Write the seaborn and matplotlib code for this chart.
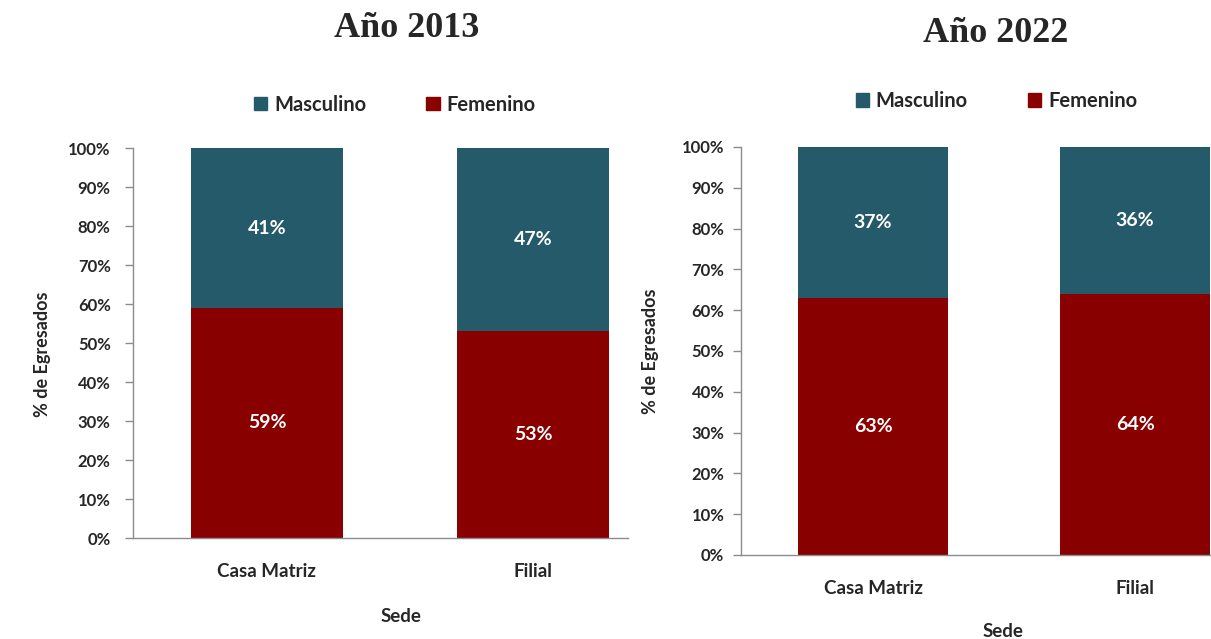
import numpy as np
import pandas as pd
import seaborn as sns
import matplotlib.pyplot as plt
from matplotlib.patches import Patch

# --- data ---
sedes = ['Casa Matriz', 'Filial']
years = ['Año 2013', 'Año 2022']
femenino_2013 = [59, 53]
masculino_2013 = [41, 47]
femenino_2022 = [63, 64]
masculino_2022 = [37, 36]

teal = '#245A69'
red = '#880000'
axis_gray = '#8C8C8C'

sns.set_style('white')
plt.rcParams['font.family'] = ['Lato', 'DejaVu Sans']
plt.rcParams['font.weight'] = 'bold'

fig = plt.figure(figsize=(12.11, 6.39), dpi=100)

# axes boxes in figure fractions (left, bottom, width, height)
boxes = [[0.1098, 0.158, 0.4088, 0.6103],
         [0.6119, 0.1315, 0.3881, 0.6385]]
xlims = [(-0.503, 1.355), (-0.504, 1.29)]
title_pos = [(0.336, 0.956), (0.822, 0.948)]
legend_pos = [(0.326, 0.836), (0.823, 0.842)]
ylabel_x = [0.035, 0.537]
ylabel_y = [0.445, 0.45]
sede_pos = [(0.331, 0.035), (0.828, 0.011)]
ypads = [10, 6]

panels = [(femenino_2013, masculino_2013), (femenino_2022, masculino_2022)]

for i, (fem, masc) in enumerate(panels):
    ax = fig.add_axes(boxes[i])
    df = pd.DataFrame({'Sede': sedes, 'Femenino': fem, 'Masculino': masc})
    df['Total'] = df['Femenino'] + df['Masculino']

    sns.barplot(data=df, x='Sede', y='Total', color=teal, saturation=1,
                width=0.57, ax=ax, linewidth=0)
    sns.barplot(data=df, x='Sede', y='Femenino', color=red, saturation=1,
                width=0.57, ax=ax, linewidth=0)

    for j, row in df.iterrows():
        ax.text(j, row['Femenino'] / 2, f"{row['Femenino']}%", ha='center',
                va='center', color='white', fontsize=14, fontweight='bold')
        ax.text(j, row['Femenino'] + row['Masculino'] / 2, f"{row['Masculino']}%",
                ha='center', va='center', color='white', fontsize=14,
                fontweight='bold')

    ax.set_ylim(0, 100)
    ax.set_xlim(*xlims[i])
    ax.set_yticks(np.arange(0, 101, 10))
    ax.set_yticklabels([f'{v}%' for v in range(0, 101, 10)])
    ax.set_xlabel('')
    ax.set_ylabel('')
    ax.tick_params(axis='y', length=6, width=1, color=axis_gray, direction='out',
                   left=True, pad=ypads[i], labelsize=12)
    ax.tick_params(axis='x', length=0, pad=18, labelsize=13.5)
    for lab in ax.get_xticklabels() + ax.get_yticklabels():
        lab.set_fontweight('bold')
    for s in ['top', 'right']:
        ax.spines[s].set_visible(False)
    for s in ['left', 'bottom']:
        ax.spines[s].set_color(axis_gray)
        ax.spines[s].set_linewidth(1)

    fig.text(*title_pos[i], years[i], ha='center', va='center', fontsize=26,
             fontweight='bold', family='Liberation Serif')
    handles = [Patch(color=teal, label='Masculino'), Patch(color=red, label='Femenino')]
    fig.legend(handles=handles, loc='center', bbox_to_anchor=legend_pos[i], ncol=2,
               frameon=False, handlelength=0.65, handleheight=0.65,
               handletextpad=0.35, columnspacing=3.0,
               prop={'weight': 'bold', 'size': 14.5})
    fig.text(ylabel_x[i], ylabel_y[i], '% de Egresados', rotation=90, ha='center',
             va='center', fontsize=13, fontweight='bold')
    fig.text(*sede_pos[i], 'Sede', ha='center', va='center', fontsize=13.5,
             fontweight='bold')

fig.savefig('out.png', dpi=100)
